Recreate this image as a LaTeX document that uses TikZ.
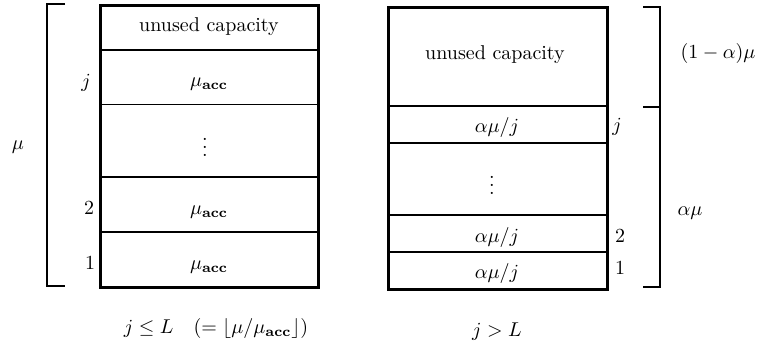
\documentclass[tikz,border=0pt]{standalone}
\usepackage{amsmath}
\begin{document}
\begin{tikzpicture}[x=0.5pt,y=-0.5pt,
  every node/.style={font=\normalsize, inner sep=0pt},
  cell/.style={draw, line width=0.8pt},
  outer/.style={draw, line width=1.5pt},
  brace/.style={draw, line width=0.7pt},
  lbl/.style={anchor=center}]
\useasboundingbox (0,0) rectangle (757,345);

% ---------- left stack: j <= L ----------
\path[cell] (100.5,5) rectangle (318,50);
\path[cell] (100.5,50) rectangle (318,104.5);
\path[cell] (100.5,104.5) rectangle (318,177);
\path[cell] (100.5,177) rectangle (318,232);
\path[cell] (100.5,232) rectangle (318,287);
\path[outer] (100.5,5) rectangle (318,287);

\node[lbl] (lu) at (209,27) {unused capacity};
\node[lbl] (lj) at (209,84) {$\mu_{\mathbf{acc}}$};
\node[lbl] (ld) at (205,141) {$\vdots$};
\node[lbl] (l2) at (209,212) {$\mu_{\mathbf{acc}}$};
\node[lbl] (l1) at (209,267) {$\mu_{\mathbf{acc}}$};

\node[lbl] (nj) at (86,83) {$j$};
\node[lbl] (n2) at (89,208) {$2$};
\node[lbl] (n1) at (90,263) {$1$};

% left bracket
\path[brace] (65,4) -- (47,4) -- (47,286) -- (65,286);
\node[lbl] (mu) at (18,147) {$\mu$};

\node[lbl] (capl) at (216,328) {$j \le L \quad (=\lfloor \mu/\mu_{\mathbf{acc}}\rfloor)$};

% ---------- right stack: j > L ----------
\path[cell] (388,7) rectangle (607,106);
\path[cell] (388,106) rectangle (607,143);
\path[cell] (388,143) rectangle (607,215);
\path[cell] (388,215) rectangle (607,252);
\path[cell] (388,252) rectangle (607,289);
\path[outer] (388,7) rectangle (607,289);

\node[lbl] (ru) at (495,55) {unused capacity};
\node[lbl] (rj) at (497,127) {$\alpha\mu/j$};
\node[lbl] (rd) at (492,179) {$\vdots$};
\node[lbl] (r2) at (497,237) {$\alpha\mu/j$};
\node[lbl] (r1) at (497,273) {$\alpha\mu/j$};

\node[lbl] (mj) at (617,127) {$j$};
\node[lbl] (m2) at (620,236) {$2$};
\node[lbl] (m1) at (620,268) {$1$};

% right bracket with a split tick
\path[brace] (643,7) -- (660,7) -- (660,287) -- (643,287);
\path[brace] (643,107) -- (660,107);
\node[lbl] (amu1) at (718,53) {$(1-\alpha)\mu$};
\node[lbl] (amu) at (690,213) {$\alpha\mu$};

\node[lbl] (capr) at (497,332) {$j > L$};
\end{tikzpicture}
\end{document}
